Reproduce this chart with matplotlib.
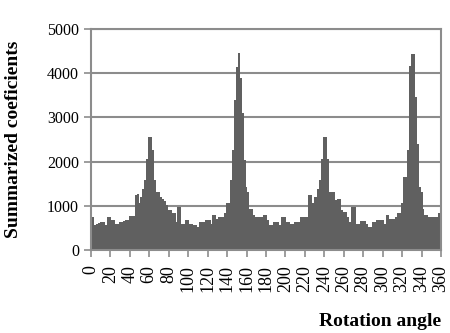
import numpy as np
import matplotlib
matplotlib.use("Agg")
import matplotlib.pyplot as plt

plt.rcParams['font.family'] = ['Liberation Serif', 'DejaVu Serif']

# rotation angle, 2 degree steps
angles = list(range(0, 361, 2))

# summarized coefficients (0..178)
vals_a = [750, 740, 570, 600, 620, 640, 640, 630, 560, 750,
          750, 690, 680, 600, 590, 640, 640, 660, 680, 680,
          780, 780, 760, 1240, 1270, 1060, 1200, 1390, 1580, 2070,
          2560, 2560, 2260, 1580, 1320, 1320, 1200, 1150, 1100, 1020,
          900, 900, 830, 830, 640, 980, 980, 600, 600, 680,
          680, 600, 600, 560, 560, 520, 640, 640, 640, 690,
          690, 690, 590, 785, 785, 710, 750, 750, 750, 830,
          1055, 1055, 1580, 2260, 3390, 4140, 4450, 3900, 3090, 2030,
          1430, 1320, 940, 940, 785, 750, 750, 750, 750, 800]
# (180..360)
vals_b = [800, 690, 565, 565, 640, 640, 640, 565, 750, 750,
          750, 640, 640, 590, 590, 640, 640, 640, 750, 750,
          750, 750, 1240, 1240, 1055, 1200, 1200, 1390, 1580, 2070,
          2560, 2560, 2070, 1320, 1320, 1320, 1130, 1150, 1150, 900,
          870, 870, 750, 640, 980, 980, 980, 600, 600, 650,
          650, 650, 600, 525, 525, 640, 640, 680, 680, 680,
          680, 600, 790, 790, 710, 710, 710, 750, 830, 830,
          1055, 1650, 1650, 2260, 4170, 4440, 4440, 3460, 2410, 1430,
          1320, 937, 785, 785, 750, 750, 750, 750, 750, 830, 830]
values = vals_a + vals_b

yticks = [0, 1000, 2000, 3000, 4000, 5000]
xticks = list(range(0, 361, 20))

fig = plt.figure(figsize=(4.5, 3.33), dpi=100)
ax = fig.add_axes([0.202, 0.249, 0.778, 0.664])

ax.bar(angles, values, width=2.0, color='#606060', linewidth=0, zorder=2)

ax.set_xlim(0, 360)
ax.set_ylim(0, 5000)
ax.set_yticks(yticks)
ax.set_yticklabels([str(v) for v in yticks], fontsize=11.5)
ax.set_xticks(xticks)
ax.set_xticklabels([str(v) for v in xticks], rotation=90, fontsize=13)

ax.grid(axis='y', color='#8c8c8c', linewidth=1.5, zorder=1)
for s in ax.spines.values():
    s.set_color('#8c8c8c')
    s.set_linewidth(1.5)
ax.tick_params(axis='both', direction='out', length=5, width=1.2, color='#8c8c8c')
ax.tick_params(axis='x', pad=6)

ax.set_ylabel('Summarized coeficients', fontsize=14, fontweight='bold')
ax.yaxis.set_label_coords(-0.197, 0.5)
fig.text(0.98, 0.01, 'Rotation angle', ha='right', va='bottom',
         fontsize=14, fontweight='bold')

fig.savefig('out.png', dpi=100)
